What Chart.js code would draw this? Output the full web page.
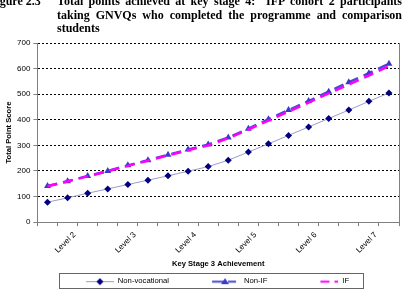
<!DOCTYPE html>
<html>
<head>
<meta charset="utf-8">
<script src="https://cdn.jsdelivr.net/npm/chart.js@4.4.1/dist/chart.umd.min.js"></script>
<style>
  html, body { margin: 0; padding: 0; background: #fff; overflow: hidden; }
  #wrap { position: relative; width: 403px; height: 291px; overflow: hidden; }
  #cap { position: absolute; left: 0; top: -5px; width: 403px; font: bold 12px 'Liberation Serif', 'Times New Roman', serif; line-height: 13.5px; color: #000; z-index: 2; }
  #cap .num { position: absolute; left: -11px; top: 0; white-space: nowrap; }
  #cap .txt { margin-left: 57px; width: 345px; text-align: justify; }
  canvas { position: absolute; left: 0; top: 0; }
</style>
</head>
<body>
<div id="wrap">
  <div id="cap">
    <span class="num">Figure 2.3</span>
    <div class="txt">Total points achieved at key stage 4:&nbsp; IFP cohort 2 participants taking GNVQs who completed the programme and comparison students</div>
  </div>
  <canvas id="chart" width="403" height="291"></canvas>
</div>
<script>
const categories = ['', 'Level 2', '', '', 'Level 3', '', '', 'Level 4', '', '', 'Level 5', '', '', 'Level 6', '', '', 'Level 7', ''];
const nonVocational = [78, 95, 113, 130, 147, 164, 181, 199, 217, 242, 274, 306, 339, 372, 405, 438, 472, 505];
const nonIF = [141, 160, 180, 200, 222, 242, 263, 284, 303, 331, 365, 402, 438, 473, 510, 547, 582, 619];
const ifGroup = [140, 159, 179, 199, 220, 240, 261, 281, 300, 328, 362, 397, 432, 467, 503, 538, 573, 610];
const yTicks = [0, 100, 200, 300, 400, 500, 600, 700];

const FONT = "'Liberation Sans', Arial, sans-serif";
const LEGEND_SHIFT = -5;

// little legend samples: line + marker, like Excel
function sample(draw) {
    const c = document.createElement('canvas');
    c.width = 70;
    c.height = 12;
    draw(c.getContext('2d'));
    return c;
}

const samples = [
    sample(g => {
        g.strokeStyle = '#9c9cc8';
        g.lineWidth = 1;
        g.beginPath(); g.moveTo(42, 6.5); g.lineTo(70, 6.5); g.stroke();
        g.fillStyle = '#000080';
        g.beginPath(); g.moveTo(56, 3); g.lineTo(59.5, 6.5); g.lineTo(56, 10); g.lineTo(52.5, 6.5); g.closePath(); g.fill();
    }),
    sample(g => {
        g.strokeStyle = '#4a4ad2';
        g.lineWidth = 2;
        g.setLineDash([12, 4]);
        g.beginPath(); g.moveTo(42, 6.5); g.lineTo(66, 6.5); g.stroke();
        g.fillStyle = '#3a3ac8';
        g.beginPath(); g.moveTo(55, 3); g.lineTo(59, 9); g.lineTo(51, 9); g.closePath(); g.fill();
    }),
    sample(g => {
        g.strokeStyle = '#ff00ff';
        g.lineWidth = 2;
        g.setLineDash([9, 5]);
        g.beginPath(); g.moveTo(52, 6.5); g.lineTo(70, 6.5); g.stroke();
    })
];

const frame = {
    id: 'frame',
    afterLayout(chart) {
        const lg = chart.legend;
        lg.top += 4;
        lg.bottom += 4;
        lg.left += LEGEND_SHIFT;
        lg.right += LEGEND_SHIFT;
    },
    afterDraw(chart) {
        const ctx = chart.ctx;
        const a = chart.chartArea;
        ctx.save();
        ctx.strokeStyle = '#808080';
        ctx.lineWidth = 1;
        ctx.beginPath();
        ctx.moveTo(Math.round(a.right) + 0.5, a.top);
        ctx.lineTo(Math.round(a.right) + 0.5, a.bottom);
        ctx.stroke();

        const lg = chart.legend;
        const hb = lg.legendHitBoxes;
        const first = hb[0], last = hb[hb.length - 1];
        const x0 = Math.round(first.left + LEGEND_SHIFT + 20) + 0.5;
        const x1 = Math.round(last.left + LEGEND_SHIFT + last.width + 19) + 0.5;
        const cy = lg.top + 1 + 4;
        ctx.strokeStyle = '#666';
        ctx.strokeRect(x0, Math.round(cy - 8) + 0.5, x1 - x0, 15);
        ctx.restore();
    }
};

new Chart(document.getElementById('chart'), {
    type: 'line',
    data: {
        labels: categories,
        datasets: [{
            label: 'Non-vocational',
            data: nonVocational,
            borderColor: '#9c9cc8',
            borderWidth: 1,
            pointStyle: 'rectRot',
            pointRadius: 3.5,
            pointBackgroundColor: '#000080',
            pointBorderColor: '#000080',
            pointBorderWidth: 0,
            order: 2
        }, {
            label: 'Non-IF',
            data: nonIF,
            borderColor: '#4a4ad2',
            borderWidth: 2.5,
            borderDash: [10, 6],
            pointStyle: 'triangle',
            pointRadius: 4,
            pointBackgroundColor: '#3a3ac8',
            pointBorderColor: '#3a3ac8',
            pointBorderWidth: 0,
            order: 1
        }, {
            label: 'IF',
            data: ifGroup,
            borderColor: '#ff00ff',
            borderWidth: 2.5,
            borderDash: [10, 6],
            pointRadius: 0,
            order: 0
        }]
    },
    options: {
        responsive: false,
        animation: false,
        devicePixelRatio: 1,
        layout: { padding: { top: 43, right: 0, left: 0, bottom: 0 } },
        plugins: {
            title: { display: false },
            tooltip: { enabled: false },
            legend: {
                position: 'bottom',
                labels: {
                    usePointStyle: true,
                    pointStyleWidth: 70,
                    padding: 1,
                    color: '#000',
                    font: { family: FONT, size: 7.7 },
                    generateLabels: chart => chart.data.datasets.map((ds, i) => ({
                        text: ds.label,
                        pointStyle: samples[i],
                        fontColor: '#000',
                        hidden: false,
                        lineWidth: 0,
                        datasetIndex: i
                    }))
                }
            }
        },
        scales: {
            x: {
                offset: true,
                grid: {
                    offset: true,
                    drawOnChartArea: false,
                    tickLength: 4,
                    tickColor: '#808080'
                },
                border: { color: '#808080' },
                ticks: {
                    autoSkip: false,
                    minRotation: 45,
                    maxRotation: 45,
                    padding: 4,
                    labelOffset: 7,
                    color: '#000',
                    font: { family: FONT, size: 8 }
                },
                title: {
                    display: true,
                    text: 'Key Stage 3 Achievement',
                    color: '#000',
                    font: { family: FONT, size: 7.6, weight: 'bold' },
                    padding: { top: 0, bottom: 4 }
                }
            },
            y: {
                min: 0,
                max: 700,
                afterBuildTicks: axis => { axis.ticks = yTicks.map(v => ({ value: v })); },
                grid: {
                    color: c => c.tick && c.tick.value === 0 ? 'rgba(0,0,0,0)' : '#000',
                    lineWidth: 1,
                    tickLength: 4,
                    tickColor: '#808080'
                },
                border: { color: '#808080', dash: [2, 2] },
                ticks: {
                    padding: 3,
                    color: '#000',
                    font: { family: FONT, size: 8 }
                },
                title: {
                    display: true,
                    text: 'Total Point Score',
                    color: '#000',
                    font: { family: FONT, size: 7.6, weight: 'bold' },
                    padding: { top: 4, bottom: 1 }
                }
            }
        }
    },
    plugins: [frame]
});
</script>
</body>
</html>
